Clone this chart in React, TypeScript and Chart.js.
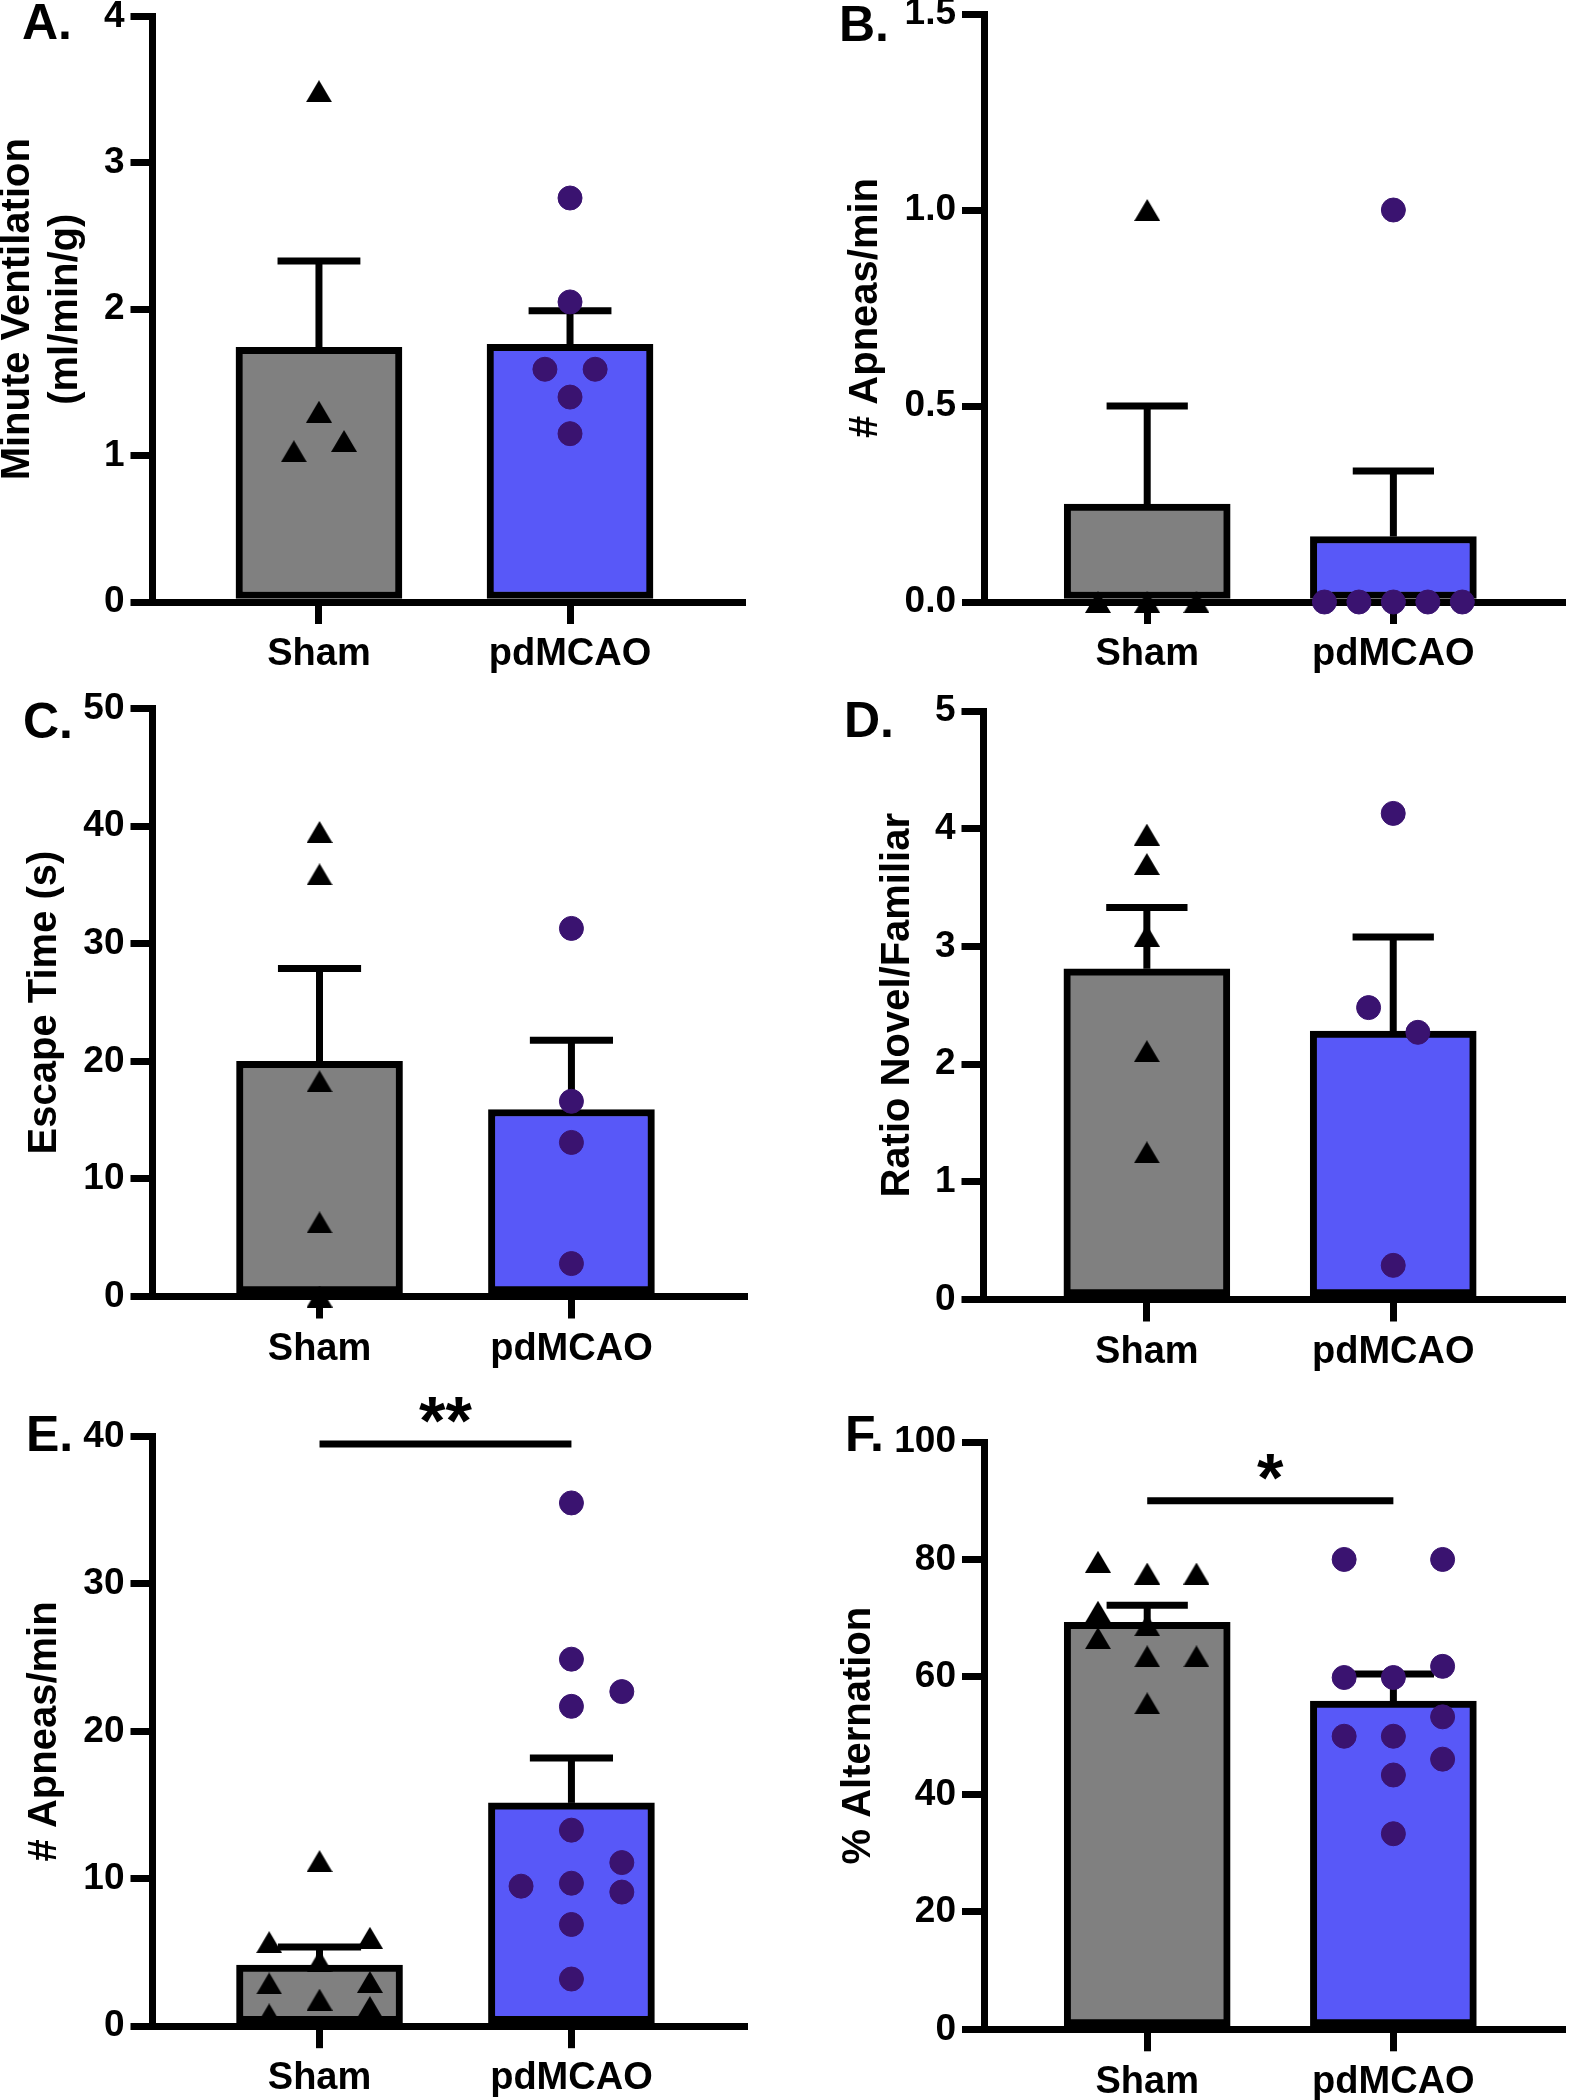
import React, { useEffect, useRef } from "react";
import { Chart, registerables } from "chart.js";

Chart.register(...registerables);

const FONT = '"Liberation Sans", Arial, Helvetica, sans-serif';

const groupLabels = ["Sham", "pdMCAO"];

// ---------- A. Minute ventilation ----------
const ventilationSham = [3.49, 1.3, 1.03, 1.1];
const ventilationPd = [2.76, 2.05, 1.59, 1.59, 1.4, 1.15];
const ventilationMean = [1.74, 1.76];
const ventilationSem = [0.59, 0.23];
const ventilationTicks = [0, 1, 2, 3, 4];

// ---------- B. Apneas/min (baseline) ----------
const apneaRestSham = [1, 0, 0, 0];
const apneaRestPd = [1, 0, 0, 0, 0, 0];
const apneaRestMean = [0.25, 0.167];
const apneaRestSem = [0.25, 0.167];
const apneaRestTicks = [0, 0.5, 1.0, 1.5];

// ---------- C. Escape time ----------
const escapeSham = [39.5, 35.9, 18.3, 6.3, 0];
const escapePd = [31.3, 16.6, 13.1, 2.8];
const escapeMean = [20.0, 15.9];
const escapeSem = [7.9, 5.9];
const escapeTicks = [0, 10, 20, 30, 40, 50];

// ---------- D. Ratio novel / familiar ----------
const ratioSham = [3.95, 3.7, 3.09, 2.11, 1.25];
const ratioPd = [4.13, 2.48, 2.27, 0.29];
const ratioMean = [2.81, 2.28];
const ratioSem = [0.52, 0.8];
const ratioTicks = [0, 1, 2, 3, 4, 5];

// ---------- E. Apneas/min ----------
const apneaSham = [11.2, 5.7, 6.0, 4.4, 2.9, 3.0, 1.8, 1.3, 0.8];
const apneaPd = [35.5, 24.9, 22.7, 21.7, 13.3, 11.1, 9.7, 9.5, 9.1, 6.9, 3.2];
const apneaMean = [4.15, 15.15];
const apneaSem = [1.23, 3.04];
const apneaTicks = [0, 10, 20, 30, 40];
const apneaSig = { y: 39.5, text: "**" };

// ---------- F. % Alternation ----------
const altSham = [79.6, 77.6, 77.6, 71.1, 68.8, 66.6, 63.5, 63.5, 55.5];
const altPd = [80, 80, 61.8, 59.9, 59.9, 53.2, 49.9, 49.9, 46.0, 43.3, 33.3];
const altMean = [69.3, 55.9];
const altSem = [2.9, 4.6];
const altTicks = [0, 20, 40, 60, 80, 100];
const altSig = { y: 90, text: "*" };

// ---------- horizontal scatter of the symbols (layout, in category units) ----------
const ventilationShamJitter = [0, 0, -0.1, 0.1];
const ventilationPdJitter = [0, 0, -0.1, 0.1, 0, 0];
const apneaRestShamJitter = [0, -0.2, 0, 0.2];
const apneaRestPdJitter = [0, -0.28, -0.14, 0, 0.14, 0.28];
const escapeShamJitter = [0, 0, 0, 0, 0];
const escapePdJitter = [0, 0, 0, 0];
const ratioShamJitter = [0, 0, 0, 0, 0];
const ratioPdJitter = [0, -0.1, 0.1, 0];
const apneaShamJitter = [0, -0.2, 0.2, 0, -0.2, 0.2, 0, 0.2, -0.2];
const apneaPdJitter = [0, 0, 0.2, 0, 0, 0.2, 0, -0.2, 0.2, 0, 0];
const altShamJitter = [-0.2, 0, 0.2, -0.2, 0, -0.2, 0, 0.2, 0];
const altPdJitter = [-0.2, 0.2, 0.2, -0.2, 0, 0.2, -0.2, 0, 0.2, 0, 0];

type Sig = { y: number; text: string };
type PanelSpec = {
  letter: string;
  title: string[];
  sham: number[];
  pd: number[];
  shamJitter: number[];
  pdJitter: number[];
  mean: number[];
  sem: number[];
  ticks: number[];
  decimals: number;
  sig?: Sig;
  // layout (page coordinates)
  left: number;
  top: number;
  width: number;
  height: number;
  axisX: number;
  topY: number;
  bottomY: number;
  rightX: number;
  titleX: number;
  letterX: number;
  letterY: number;
};

const panels: PanelSpec[] = [
  {
    letter: "A.", title: ["Minute Ventilation", "(ml/min/g)"],
    sham: ventilationSham, pd: ventilationPd, shamJitter: ventilationShamJitter, pdJitter: ventilationPdJitter,
    mean: ventilationMean, sem: ventilationSem, ticks: ventilationTicks, decimals: 0,
    left: 0, top: 0, width: 788, height: 690, axisX: 152.5, topY: 16.5, bottomY: 602, rightX: 742,
    titleX: 17.5, letterX: 22, letterY: 39,
  },
  {
    letter: "B.", title: ["# Apneas/min"],
    sham: apneaRestSham, pd: apneaRestPd, shamJitter: apneaRestShamJitter, pdJitter: apneaRestPdJitter,
    mean: apneaRestMean, sem: apneaRestSem, ticks: apneaRestTicks, decimals: 1,
    left: 788, top: 0, width: 788, height: 690, axisX: 984, topY: 12.5, bottomY: 602, rightX: 1576,
    titleX: 866, letterX: 839, letterY: 41,
  },
  {
    letter: "C.", title: ["Escape Time (s)"],
    sham: escapeSham, pd: escapePd, shamJitter: escapeShamJitter, pdJitter: escapePdJitter,
    mean: escapeMean, sem: escapeSem, ticks: escapeTicks, decimals: 0,
    left: 0, top: 690, width: 788, height: 700, axisX: 152.5, topY: 708.5, bottomY: 1296.5, rightX: 744,
    titleX: 45.3, letterX: 23, letterY: 738,
  },
  {
    letter: "D.", title: ["Ratio Novel/Familiar"],
    sham: ratioSham, pd: ratioPd, shamJitter: ratioShamJitter, pdJitter: ratioPdJitter,
    mean: ratioMean, sem: ratioSem, ticks: ratioTicks, decimals: 0,
    left: 788, top: 690, width: 788, height: 700, axisX: 983.5, topY: 711, bottomY: 1299.5, rightX: 1576,
    titleX: 898, letterX: 844, letterY: 737,
  },
  {
    letter: "E.", title: ["# Apneas/min"],
    sham: apneaSham, pd: apneaPd, shamJitter: apneaShamJitter, pdJitter: apneaPdJitter,
    mean: apneaMean, sem: apneaSem, ticks: apneaTicks, decimals: 0, sig: apneaSig,
    left: 0, top: 1390, width: 788, height: 710, axisX: 152.5, topY: 1436.6, bottomY: 2026.2, rightX: 744,
    titleX: 45.3, letterX: 26, letterY: 1451,
  },
  {
    letter: "F.", title: ["% Alternation"],
    sham: altSham, pd: altPd, shamJitter: altShamJitter, pdJitter: altPdJitter,
    mean: altMean, sem: altSem, ticks: altTicks, decimals: 0, sig: altSig,
    left: 788, top: 1390, width: 788, height: 710, axisX: 984, topY: 1442, bottomY: 2029.3, rightX: 1576,
    titleX: 859, letterX: 845, letterY: 1451,
  },
];

const GRAY = "#808080";
const BLUE = "#5858F8";
const PURPLE = "#3A1370";
const LINE_W = 7;
const X_MIN = -0.663;
const X_MAX = 1.685;
const BAR_PX = 166;
const CAP_HALF = 0.165;
const TITLE_SIZE = 40;
const TITLE_LH = 1.2;

function makeTriangle(): HTMLCanvasElement {
  const c = document.createElement("canvas");
  c.width = 26;
  c.height = 22;
  const g = c.getContext("2d")!;
  g.fillStyle = "#000";
  g.beginPath();
  g.moveTo(13, 0);
  g.lineTo(26, 22);
  g.lineTo(0, 22);
  g.closePath();
  g.fill();
  return c;
}

function buildConfig(p: PanelSpec): any {
  const tri = makeTriangle();
  const lineDs = (pts: { x: number; y: number }[]) => ({
    type: "line",
    data: pts,
    borderColor: "#000",
    borderWidth: LINE_W,
    borderCapStyle: "butt",
    pointRadius: 0,
    tension: 0,
    clip: false,
    order: 2,
  });

  const datasets: any[] = [];
  datasets.push({
    type: "scatter",
    data: p.sham.map((v, i) => ({ x: 0 + p.shamJitter[i], y: v })),
    pointStyle: tri,
    pointRadius: 13,
    backgroundColor: "#000",
    borderColor: "#000",
    clip: false,
    order: 1,
  });
  datasets.push({
    type: "scatter",
    data: p.pd.map((v, i) => ({ x: 1 + p.pdJitter[i], y: v })),
    pointStyle: "circle",
    pointRadius: 12,
    borderWidth: 1,
    backgroundColor: PURPLE,
    borderColor: PURPLE,
    clip: false,
    order: 1,
  });
  [0, 1].forEach((g) => {
    const top = p.mean[g] + p.sem[g];
    datasets.push(lineDs([{ x: g, y: p.mean[g] }, { x: g, y: top }]));
    datasets.push(lineDs([{ x: g - CAP_HALF, y: top }, { x: g + CAP_HALF, y: top }]));
  });
  if (p.sig) {
    datasets.push(lineDs([{ x: 0, y: p.sig.y }, { x: 1, y: p.sig.y }]));
  }
  datasets.push({
    type: "bar",
    data: p.mean.map((m, g) => ({ x: g, y: m })),
    backgroundColor: [GRAY, BLUE],
    borderColor: "#000",
    borderWidth: LINE_W,
    borderSkipped: false,
    barThickness: BAR_PX,
    order: 3,
  });

  const cLeft = p.left;
  const cTop = p.top;
  const yWidth = p.axisX - cLeft;
  const padTop = p.topY - cTop;
  const padRight = cLeft + p.width - p.rightX;
  const xScaleH = cTop + p.height - p.bottomY;
  const titlePad = p.titleX - cLeft - (TITLE_SIZE * TITLE_LH) / 2;

  const annotate = {
    id: "annotate",
    afterDraw(chart: any) {
      const ctx = chart.ctx;
      ctx.save();
      ctx.fillStyle = "#000";
      ctx.textBaseline = "alphabetic";
      ctx.textAlign = "left";
      ctx.font = `bold 50px ${FONT}`;
      ctx.fillText(p.letter, p.letterX - cLeft, p.letterY - cTop);
      if (p.sig) {
        const x = chart.scales.x.getPixelForValue(0.5);
        const y = chart.scales.y.getPixelForValue(p.sig.y);
        ctx.font = `bold 68px ${FONT}`;
        ctx.textAlign = "center";
        ctx.fillText(p.sig.text, x, y);
      }
      ctx.restore();
    },
  };

  return {
    type: "scatter",
    data: { datasets },
    plugins: [annotate],
    options: {
      responsive: false,
      animation: false,
      devicePixelRatio: 1,
      events: [],
      layout: { padding: { left: 0, top: padTop, right: padRight, bottom: 0 } },
      plugins: { legend: { display: false }, tooltip: { enabled: false }, title: { display: false } },
      scales: {
        x: {
          type: "linear",
          min: X_MIN,
          max: X_MAX,
          offset: false,
          afterBuildTicks: (s: any) => {
            s.ticks = [{ value: 0 }, { value: 1 }];
          },
          afterFit: (s: any) => {
            s.height = xScaleH;
            s.paddingLeft = 0;
            s.paddingRight = 0;
          },
          grid: {
            display: true,
            offset: false,
            drawOnChartArea: false,
            drawTicks: true,
            tickLength: 22,
            lineWidth: LINE_W,
            color: "#000",
          },
          border: { display: true, color: "#000", width: LINE_W },
          ticks: {
            autoSkip: false,
            maxRotation: 0,
            padding: 8,
            color: "#000",
            font: { family: FONT, size: 38, weight: "bold" },
            callback: (v: any) => groupLabels[v] ?? "",
          },
        },
        y: {
          type: "linear",
          min: p.ticks[0],
          max: p.ticks[p.ticks.length - 1],
          afterBuildTicks: (s: any) => {
            s.ticks = p.ticks.map((v) => ({ value: v }));
          },
          afterFit: (s: any) => {
            s.width = yWidth;
            s.paddingTop = 0;
            s.paddingBottom = 0;
          },
          grid: {
            display: true,
            drawOnChartArea: false,
            drawTicks: true,
            tickLength: 22,
            lineWidth: LINE_W,
            color: "#000",
          },
          border: { display: true, color: "#000", width: LINE_W },
          ticks: {
            padding: 6,
            color: "#000",
            font: { family: FONT, size: 37, weight: "bold" },
            callback: (v: any) => Number(v).toFixed(p.decimals),
          },
          title: {
            display: true,
            text: p.title,
            color: "#000",
            font: { family: FONT, size: TITLE_SIZE, weight: "bold", lineHeight: TITLE_LH },
            padding: { top: titlePad, bottom: 0 },
          },
        },
      },
    },
  };
}

function Panel({ spec }: { spec: PanelSpec }) {
  const ref = useRef<HTMLCanvasElement>(null);
  useEffect(() => {
    const canvas = ref.current;
    if (!canvas) return;
    const chart = new Chart(canvas, buildConfig(spec));
    return () => chart.destroy();
  }, [spec]);
  return (
    <canvas
      ref={ref}
      width={spec.width}
      height={spec.height}
      style={{ position: "absolute", left: spec.left, top: spec.top, width: spec.width, height: spec.height }}
    />
  );
}

export default function App() {
  return (
    <div
      style={{
        position: "absolute",
        left: 0,
        top: 0,
        width: 1576,
        height: 2100,
        background: "#ffffff",
        overflow: "hidden",
      }}
    >
      {panels.map((p) => (
        <Panel key={p.letter} spec={p} />
      ))}
    </div>
  );
}
